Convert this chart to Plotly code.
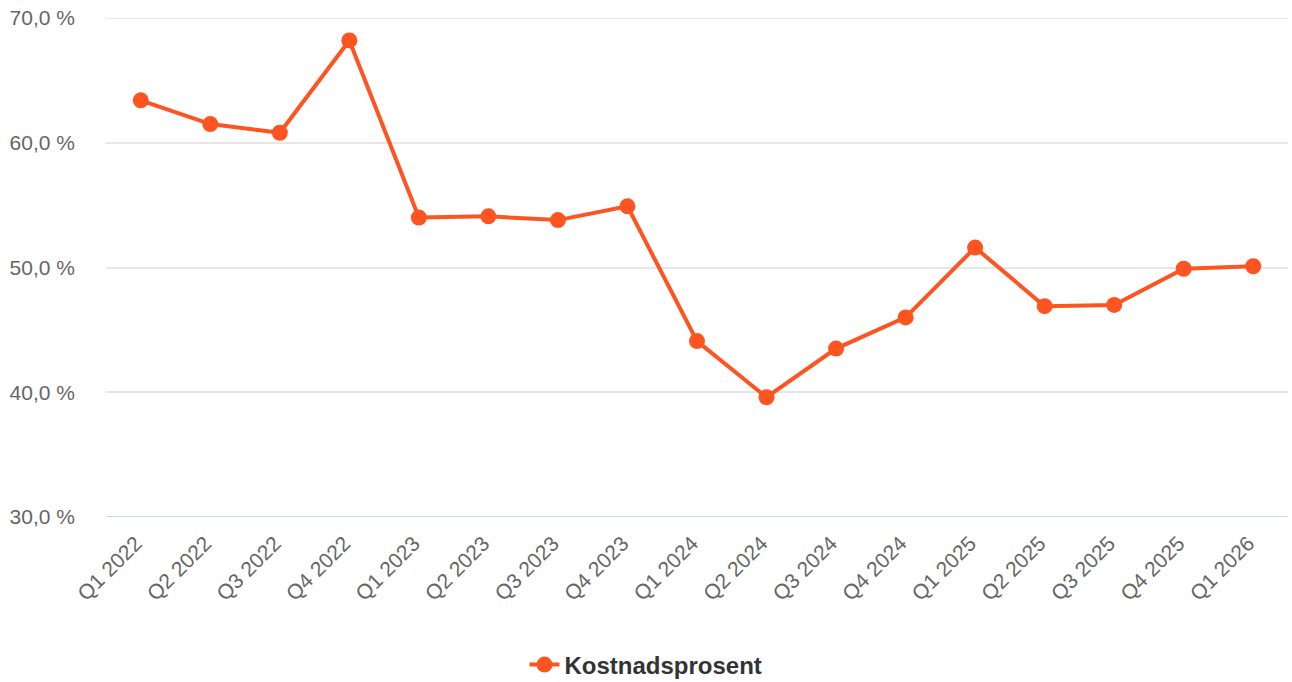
import plotly.graph_objects as go

categories = ["Q1 2022", "Q2 2022", "Q3 2022", "Q4 2022",
              "Q1 2023", "Q2 2023", "Q3 2023", "Q4 2023",
              "Q1 2024", "Q2 2024", "Q3 2024", "Q4 2024",
              "Q1 2025", "Q2 2025", "Q3 2025", "Q4 2025", "Q1 2026"]
kostnadsprosent = [63.4, 61.5, 60.8, 68.2,
                   54.0, 54.1, 53.8, 54.9,
                   44.1, 39.6, 43.5, 46.0,
                   51.6, 46.9, 47.0, 49.9, 50.1]
y_ticks = [30, 40, 50, 60, 70]
y_tick_labels = ["30,0 %", "40,0 %", "50,0 %", "60,0 %", "70,0 %"]
series_name = "Kostnadsprosent"

color = "#fd5421"
font = "Liberation Sans, Arial, sans-serif"

fig = go.Figure()
fig.add_trace(go.Scatter(
    x=list(range(len(categories))),
    y=kostnadsprosent,
    mode="lines+markers",
    name=series_name,
    line=dict(color=color, width=4),
    marker=dict(color=color, size=16),
    showlegend=True,
))

fig.update_layout(
    width=1292, height=682,
    margin=dict(l=106, r=4, t=18, b=165),
    paper_bgcolor="white", plot_bgcolor="white",
    font=dict(family=font, size=21, color="#666666"),
    xaxis=dict(
        range=[-0.5, len(categories) - 0.5],
        tickmode="array",
        tickvals=list(range(len(categories))),
        ticktext=categories,
        tickangle=-45,
        showgrid=False,
        zeroline=False,
        showline=False,
        ticks="",
        automargin=False,
        ticklabelstandoff=9,
        ticklabelshift=-5,
        tickfont=dict(family=font, size=21, color="#666666"),
    ),
    yaxis=dict(
        range=[30, 70],
        tickmode="array",
        tickvals=y_ticks,
        ticktext=y_tick_labels,
        showgrid=True,
        gridcolor="#e6e6e6",
        gridwidth=2,
        zeroline=False,
        showline=False,
        ticks="",
        automargin=False,
        ticklabelstandoff=30,
        tickfont=dict(family=font, size=21, color="#666666"),
    ),
    legend=dict(
        orientation="h",
        xref="container", yref="container",
        x=0.5, xanchor="center",
        y=0.025, yanchor="middle",
        font=dict(family=font, size=24, color="#333333", weight="bold"),
        itemwidth=30,
    ),
    showlegend=True,
)

# top gridline at 70 % (edge of plot area)
fig.add_shape(type="line", xref="paper", yref="y",
              x0=0, x1=1, y0=70, y1=70,
              line=dict(color="#e6e6e6", width=2), layer="below")
# axis baseline at 30 %
fig.add_shape(type="line", xref="paper", yref="y",
              x0=0, x1=1, y0=30, y1=30,
              line=dict(color="#ccd6eb", width=2), layer="below")

fig.write_html("out.html", config={"displayModeBar": False},
               post_script="document.body.style.margin='0px';")
